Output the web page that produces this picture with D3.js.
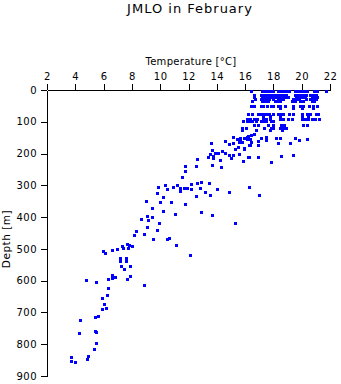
<!DOCTYPE html>
<html>
<head>
<meta charset="utf-8">
<script src="https://cdn.jsdelivr.net/npm/d3@7"></script>
<style>
  html, body { margin: 0; padding: 0; background: #fff; }
  svg { display: block; }
  text { font-family: "DejaVu Sans", Verdana, sans-serif; fill: #000; }
</style>
</head>
<body>
<svg id="chart" width="341" height="384"></svg>
<script>
// ---- data (temperature °C, depth m) ----
const xTicks = [2, 4, 6, 8, 10, 12, 14, 16, 18, 20, 22];
const yTicks = [0, 100, 200, 300, 400, 500, 600, 700, 800, 900];

// near-surface sampling levels (m) and temperatures measured at each level
const surfaceDepths = [3, 15, 22, 29, 36, 50, 57, 76, 82, 92, 99, 109, 120, 127];
const surfaceTemps = [
  [16.45, 17.2, 17.4, 17.6, 17.8, 18.0, 18.3, 18.5, 18.7, 18.9, 19.1, 19.5, 19.75, 19.95, 20.15, 20.4, 20.85, 21.05, 21.7],
  [16.6, 17.1, 17.3, 17.5, 17.7, 17.9, 18.1, 18.3, 18.5, 18.7, 18.9, 19.5, 19.7, 19.9, 20.1, 20.3, 20.6, 20.8, 21.0],
  [16.6, 17.2, 17.4, 17.6, 17.8, 18.0, 18.2, 18.4, 18.6, 18.8, 19.0, 19.6, 19.8, 20.0, 20.2, 20.7, 20.9, 21.1],
  [16.7, 17.1, 17.3, 17.5, 17.7, 18.0, 18.3, 18.5, 18.7, 19.4, 19.6, 19.8, 20.3, 20.6, 20.8, 21.0],
  [16.5, 17.2, 17.4, 17.6, 18.1, 18.3, 18.5, 19.3, 19.5, 19.9, 20.1, 20.7, 20.9],
  [16.4, 16.6, 17.1, 17.3, 17.55, 17.8, 18.0, 18.3, 18.5, 18.8, 19.4, 19.9, 20.1, 20.5, 20.8, 21.1],
  [18.5, 19.4, 20.05, 20.8],
  [16.2, 16.5, 16.9, 17.1, 17.3, 17.5, 17.7, 17.95, 18.3, 18.5, 18.7, 19.1, 19.35, 20.0, 20.4, 20.6, 21.0, 21.15],
  [17.3, 17.75, 18.45, 20.0, 20.45],
  [16.1, 16.35, 16.6, 16.85, 17.3, 17.5, 17.75, 18.45, 18.65, 19.0, 19.3, 20.0, 20.2, 20.45, 20.7, 20.95, 21.2],
  [15.85, 16.1, 16.3, 16.5, 16.75, 17.1, 17.3, 17.5, 17.8, 18.0],
  [16.65, 16.9, 17.6, 17.95, 18.55, 18.75, 20.1, 20.35],
  [15.8, 16.05, 17.35, 17.8, 18.0, 18.5, 18.7, 18.9],
  [15.75, 16.75, 17.75, 18.6]
];

// upper thermocline points [temperature, depth]
const upperPoints = [
  [16.6, 138], [16.45, 141], [16.15, 147], [15.9, 150], [15.65, 152], [16.1, 155], [16.35, 155],
  [16.9, 160], [17.1, 152], [17.5, 149], [17.5, 157], [18.15, 152], [18.5, 152], [18.35, 166],
  [19.2, 166], [19.5, 152], [19.8, 156], [20.35, 155], [15.75, 163], [16.45, 163], [16.35, 173],
  [16.9, 174], [15.95, 187], [16.25, 210], [16.93, 210], [18.55, 208], [19.4, 205], [17.85, 225],
  [15.87, 223], [15.17, 149], [15.4, 155], [15.57, 163], [16.23, 144], [15.92, 184], [15.52, 178],
  [15.29, 187]
];

// main thermocline points [temperature, depth]
const midPoints = [
  [13.61, 166], [14.58, 161], [14.84, 171], [15.14, 168], [15.5, 179], [15.64, 160], [16.25, 173],
  [15.94, 186], [13.64, 189], [13.52, 201], [13.87, 199], [14.06, 197], [14.39, 193], [14.58, 199],
  [14.86, 205], [15.17, 205], [14.98, 215], [15.59, 201], [16.23, 210], [15.87, 223], [13.75, 207],
  [13.4, 212], [13.71, 215], [14.2, 220], [12.58, 218], [13.64, 236], [14.28, 243], [11.77, 238],
  [11.77, 256], [12.55, 240], [11.56, 275], [10.88, 304], [11.17, 298], [11.42, 307], [11.42, 317],
  [11.7, 309], [11.91, 307], [12.2, 297], [12.2, 312], [12.62, 294], [12.86, 289], [12.79, 307],
  [13.14, 322], [13.45, 294], [14.01, 312], [13.54, 331], [14.88, 320], [12.51, 335], [10.78, 354],
  [11.73, 360], [11.07, 390], [12.91, 385], [13.68, 394], [15.31, 420], [16.25, 304], [16.98, 331],
  [9.87, 306], [10.36, 299], [10.5, 312], [9.8, 323], [10.22, 338], [9.02, 348], [10.0, 353],
  [9.42, 372], [10.22, 381], [9.05, 396], [8.66, 407], [9.16, 409], [9.44, 400], [9.94, 420],
  [9.05, 430], [9.77, 440], [8.86, 452], [9.51, 470], [10.5, 468], [10.62, 465], [11.14, 489],
  [12.13, 519]
];

// deep points [temperature, depth]
const deepPoints = [
  [8.27, 443], [8.17, 455], [8.83, 452], [5.93, 507], [6.07, 512], [6.62, 503], [6.97, 500],
  [7.32, 491], [7.63, 486], [7.82, 488], [8.03, 492], [7.39, 496], [7.75, 496], [7.18, 529],
  [7.6, 529], [7.18, 538], [7.6, 537], [7.21, 554], [7.89, 553], [7.42, 564], [6.62, 582],
  [6.81, 589], [6.57, 591], [6.31, 595], [7.67, 596], [7.89, 584], [4.78, 599], [5.49, 603],
  [8.88, 614], [6.33, 624], [6.22, 646], [5.91, 656], [6.0, 674], [6.19, 685], [5.91, 689],
  [5.37, 713], [5.63, 711], [4.33, 725], [4.28, 766], [5.39, 758], [5.46, 760], [5.49, 797],
  [5.3, 814], [4.92, 837], [4.8, 848], [3.7, 840], [3.67, 853], [4.0, 857]
];

// ---- build table ----
const points = [];
surfaceDepths.forEach((d, i) => surfaceTemps[i].forEach(t => points.push({ t, d })));
[upperPoints, midPoints, deepPoints].forEach(arr => arr.forEach(([t, d]) => points.push({ t, d })));

// ---- chart ----
const svg = d3.select("#chart");
const x = d3.scaleLinear().domain([2, 22]).range([47, 330]);
const y = d3.scaleLinear().domain([0, 900]).range([90, 376]);

svg.append("text")
  .attr("x", 190).attr("y", 13)
  .attr("text-anchor", "middle")
  .style("font-size", "13px")
  .style("letter-spacing", "1px")
  .text("JMLO in February");

svg.append("text")
  .attr("x", 191).attr("y", 64.5)
  .attr("text-anchor", "middle")
  .style("font-size", "10px")
  .style("letter-spacing", "0.3px")
  .text("Temperature [°C]");

svg.append("text")
  .attr("transform", "translate(9.5,239) rotate(-90)")
  .attr("text-anchor", "middle")
  .style("font-size", "10.5px")
  .style("letter-spacing", "0.5px")
  .text("Depth [m]");

const xAxis = svg.append("g")
  .attr("transform", `translate(0,${y(0)})`)
  .call(d3.axisTop(x).tickValues(xTicks).tickSize(6).tickSizeOuter(0).tickPadding(4.5).tickFormat(d3.format("d")));

const yAxis = svg.append("g")
  .attr("transform", `translate(${x(2)},0)`)
  .call(d3.axisLeft(y).tickValues(yTicks).tickSize(6).tickSizeOuter(0).tickPadding(4).tickFormat(d3.format("d")));

[xAxis, yAxis].forEach(g => {
  g.selectAll("path, line").attr("stroke", "#000").attr("shape-rendering", "crispEdges");
  g.selectAll("text")
    .style("font-family", '"DejaVu Sans", Verdana, sans-serif')
    .style("font-size", "10px")
    .style("letter-spacing", "0.5px")
    .attr("fill", "#000");
});

svg.append("g")
  .selectAll("rect")
  .data(points)
  .join("rect")
  .attr("x", p => Math.round(x(p.t)) - 1)
  .attr("y", p => Math.round(y(p.d)) - 1)
  .attr("width", 3)
  .attr("height", 3)
  .attr("fill", "#0000ff")
  .attr("shape-rendering", "crispEdges");
</script>
</body>
</html>
